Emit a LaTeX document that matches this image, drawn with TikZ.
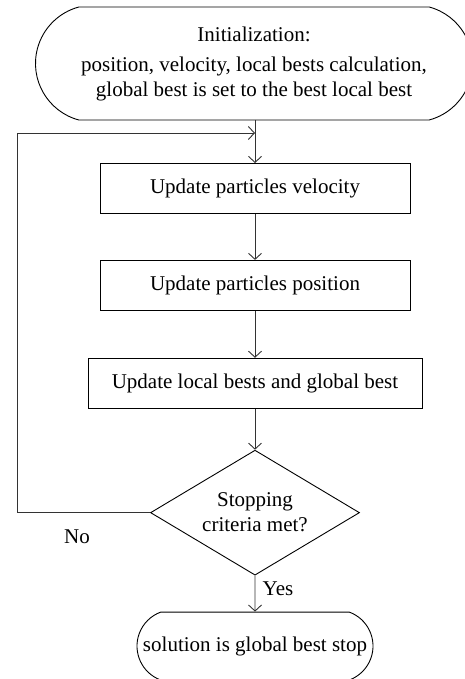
\documentclass[tikz,border=0pt]{standalone}
\usepackage{fontspec}
\setmainfont{Liberation Serif}
\usetikzlibrary{arrows.meta, positioning, shapes.geometric, shapes.misc}

\begin{document}
\begin{tikzpicture}[x=1pt, y=1pt,
    font=\fontsize{21}{25}\selectfont,
    term/.style={draw, line width=0.9pt, rounded rectangle, rounded rectangle arc length=150, align=center, inner sep=0pt},
    b/.style={draw, line width=0.9pt, align=center, minimum width=310pt, minimum height=50pt, inner sep=0pt},
    dec/.style={draw, line width=0.9pt, diamond, aspect=1.67, align=center, minimum width=209pt, minimum height=125pt, inner sep=0pt},
    arr/.style={-{Straight Barb[length=6pt, width=13pt]}, line width=0.9pt, draw=black!80}]
    \useasboundingbox (0,0) rectangle (465,-679);
    \node[term, minimum width=437pt, minimum height=113pt] (init) at (254,-63.5)
        {Initialization:\\[5pt]position, velocity, local bests calculation,\\global best is set to the best local best};
    \coordinate (top) at (255,-120);
    \coordinate (join) at (255,-133);
    \node[b, below=43pt of top] (vel) {Update particles velocity};
    \node[b, below=46pt of vel] (pos) {Update particles position};
    \node[b, minimum width=334pt, below=47pt of pos] (best) {Update local bests and global best};
    \node[dec, below=41pt of best] (stop) {Stopping\\criteria met?};
    \node[term, rounded rectangle arc length=140, minimum width=236pt, minimum height=68pt, below=36pt of stop] (sol) {solution is global best stop};
    \node (no) at ([shift={(-73pt,-24pt)}]stop.west) {No};
    \node (yes) at ([shift={(23pt,-13pt)}]stop.south) {Yes};
    \draw[arr] (top) -- (vel);
    \draw[arr] (vel) -- (pos);
    \draw[arr] (pos) -- (best);
    \draw[arr] (best) -- (stop);
    \draw[arr] (stop) -- (sol);
    \draw[arr] (stop.west) -| ([xshift=-238pt]join) -- (join);
  \end{tikzpicture}
\end{document}
